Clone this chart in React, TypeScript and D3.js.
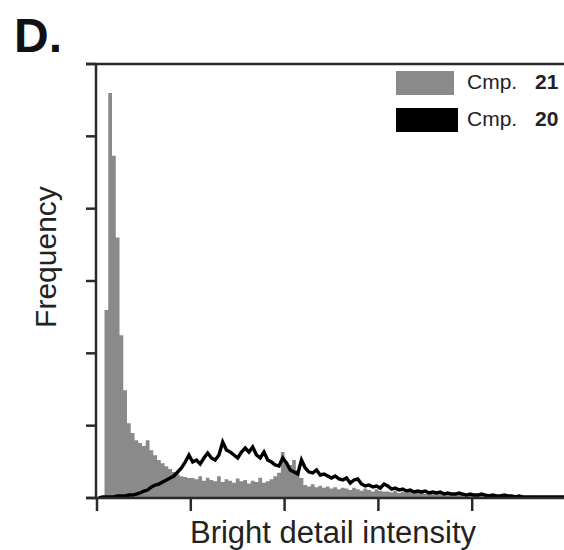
import React from "react";
import * as d3 from "d3";

// Histogram bins (bin width = 2 intensity units, starting at 0)
const BIN_WIDTH = 2;
const cmp21Counts = [
  0, 0, 2600, 5600, 4730, 3600, 2250, 1490, 1035, 900,
  800, 760, 720, 800, 660, 590, 525, 480, 440, 400,
  360, 330, 300, 290, 275, 275,
  260, 300, 240, 280, 250, 230, 300, 220, 260, 240, 210, 270, 230, 250, 200, 240, 220, 280, 210, 230, 260, 300, 350,
  635, 500, 455, 525, 386, 275,
  180, 160, 190, 150, 170, 140, 160, 130, 150, 120, 140, 130, 110, 140, 120, 100, 130, 110, 90, 120, 100, 90,
  90, 80, 100, 70, 85, 75, 90, 65, 80, 70, 60, 75, 65, 55, 70, 60, 50, 65, 55, 50, 60, 45, 55, 50,
  45, 40, 50, 35, 45, 40, 30, 40, 35, 30, 35, 25, 30, 28, 25, 30, 22, 25, 20, 24, 20, 18, 20, 16,
];
const cmp20Counts = [
  0, 14, 14, 14, 14, 28, 28, 28, 41, 41,
  55, 69, 97, 110, 152, 180, 193, 221, 249, 276,
  304, 359, 415, 497, 594, 497, 525, 470, 553, 622,
  553, 525, 594, 774, 663, 636, 594, 553, 636, 691,
  636, 705, 594, 553, 636, 525, 497, 456, 442, 553,
  484, 387, 359, 332, 525, 415, 359, 346, 387, 318,
  332, 304, 276, 304, 263, 249, 276, 207, 249, 263,
  193, 166, 180, 152, 166, 138, 193, 166, 124, 138,
  110, 124, 97, 110, 83, 97, 83, 97, 69, 83,
  69, 83, 55, 69, 55, 55, 69, 55, 41, 55,
  41, 41, 55, 41, 28, 41, 28, 28, 41, 28,
  28, 14, 28, 14, 14, 14, 14, 14, 14, 14,
  14, 14, 14, 14, 14,
];
const xTicks = [0, 50, 100, 150, 200];
const yTicks = [0, 1000, 2000, 3000, 4000, 5000, 6000];
const legendItems = [
  { name: "Cmp.", id: "21", color: "#8a8a8a" },
  { name: "Cmp.", id: "20", color: "#000000" },
];
const panelLabel = "D.";
const xLabel = "Bright detail intensity";
const yLabel = "Frequency";

export default function App() {
  const W = 564;
  const H = 550;
  const left = 97;
  const top = 64;
  const bottom = 498;
  const right = 566;

  const x = d3.scaleLinear().domain([0, 250]).range([left, right]);
  const y = d3.scaleLinear().domain([0, 6000]).range([bottom, top]);

  const grayPts: [number, number][] = cmp21Counts.map((v, i) => [i * BIN_WIDTH, v]);
  grayPts.push([cmp21Counts.length * BIN_WIDTH, cmp21Counts[cmp21Counts.length - 1]]);
  const area = d3
    .area<[number, number]>()
    .x((d) => x(d[0]))
    .y0(y(0))
    .y1((d) => y(d[1]))
    .curve(d3.curveStepAfter);

  const line = d3
    .line<number>()
    .x((_, i) => x(i * BIN_WIDTH + BIN_WIDTH / 2))
    .y((d) => y(d))
    .curve(d3.curveLinear);

  const axisColor = "#2a2a2a";
  const font = "'Liberation Sans', Arial, sans-serif";

  return (
    <svg
      width={W}
      height={H}
      style={{ position: "absolute", left: 0, top: 0, background: "#fff" }}
      fontFamily={font}
    >
      <defs>
        <clipPath id="plot">
          <rect x={left} y={top - 2} width={right - left} height={bottom - top + 2} />
        </clipPath>
      </defs>
      <rect x={0} y={0} width={W} height={H} fill="#fff" />
      <text x={14} y={52} fontSize={48} fontWeight="bold" fill="#111">
        {panelLabel}
      </text>

      <g clipPath="url(#plot)">
        <path d={area(grayPts) || ""} fill="#8a8a8a" />
        <path
          d={line(cmp20Counts) || ""}
          fill="none"
          stroke="#000"
          strokeWidth={3.4}
          strokeLinejoin="miter"
        />
      </g>

      {/* frame */}
      <line x1={left - 11} x2={W} y1={top} y2={top} stroke={axisColor} strokeWidth={2.5} />
      <line x1={left - 1} x2={left - 1} y1={top} y2={bottom} stroke={axisColor} strokeWidth={2.5} />
      <line x1={left - 11} x2={W} y1={bottom} y2={bottom} stroke={axisColor} strokeWidth={2.5} />

      {yTicks.map((t) => (
        <line
          key={"y" + t}
          x1={left - 11}
          x2={left - 1}
          y1={y(t)}
          y2={y(t)}
          stroke={axisColor}
          strokeWidth={2.5}
        />
      ))}
      {xTicks.map((t) => (
        <line
          key={"x" + t}
          x1={x(t)}
          x2={x(t)}
          y1={bottom}
          y2={bottom + 13}
          stroke={axisColor}
          strokeWidth={2.5}
        />
      ))}

      <text x={333} y={543} fontSize={31} textAnchor="middle" fill="#222">
        {xLabel}
      </text>
      <text
        transform={`translate(56, 257) rotate(-90)`}
        fontSize={30}
        textAnchor="middle"
        fill="#222"
      >
        {yLabel}
      </text>

      {legendItems.map((it, i) => (
        <g key={it.id} transform={`translate(396, ${71 + i * 37})`}>
          <rect x={0} y={0} width={i === 0 ? 58 : 62} height={24} fill={it.color} />
          <text x={71} y={18} fontSize={21} fill="#222">
            <tspan>{it.name} </tspan>
            <tspan dx={12} fontWeight="bold">
              {it.id}
            </tspan>
          </text>
        </g>
      ))}
    </svg>
  );
}
